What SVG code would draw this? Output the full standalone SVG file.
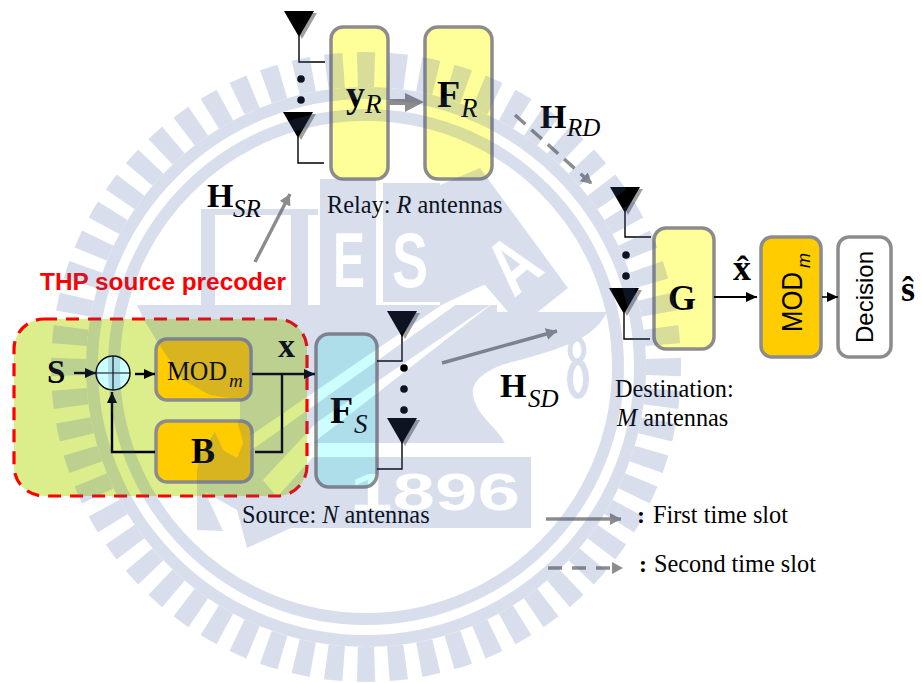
<svg xmlns="http://www.w3.org/2000/svg" width="922" height="683" viewBox="0 0 922 683">
<style>
text{font-family:"Liberation Serif","Times New Roman",serif;fill:#000}
.b{font-weight:bold}
.i{font-style:italic}
.lab{font-size:24.3px}
.sans{font-family:"Liberation Sans",Arial,sans-serif}
.box{stroke:#8c8c8c;stroke-width:3.5}
.y{fill:#ffff99}.o{fill:#ffcc00}
.w{fill:none;stroke:#000;stroke-width:1.4}
.k{fill:none;stroke:#000;stroke-width:2.4}
.g{fill:none;stroke:#8c8c8c;stroke-width:3.4}
.d{stroke-dasharray:14 8}
.seal{fill:#415fa0}
.ring{fill:none;stroke:#415fa0}
.cut{fill:#000;font-family:"Liberation Sans",Arial,sans-serif;font-weight:bold}
</style>
<defs>
<marker id="ak" markerUnits="userSpaceOnUse" markerWidth="12" markerHeight="12" refX="11" refY="6" orient="auto"><path d="M0,1 L11,6 L0,11Z" fill="#000"/></marker>
<marker id="ag" markerUnits="userSpaceOnUse" markerWidth="12" markerHeight="14" refX="11" refY="7" orient="auto"><path d="M0,1 L11,7 L0,13Z" fill="#8c8c8c"/></marker>
<g id="ant"><path d="M3,2 H33 L18,28Z" fill="#a0a0a0"/><path d="M0,0 H30 L15,26Z" fill="#000"/></g>
<mask id="cut" maskUnits="userSpaceOnUse" x="0" y="0" width="922" height="683">
<rect width="922" height="683" fill="#fff"/>
<g fill="#000">
<rect x="215" y="215" width="75" height="7"/><rect x="215" y="229" width="75" height="8"/><rect x="215" y="243" width="75" height="7"/><rect x="215" y="257" width="75" height="8"/><rect x="215" y="272" width="75" height="7"/><rect x="215" y="286" width="75" height="7"/><rect x="215" y="300" width="75" height="5"/>
<path d="M440,306 L485,284 L250,451 L250,436Z"/>
<path d="M497,300 L316,423 L263,480 L277,497 L313,457 L313,443Z"/>
<path d="M237,420 L215,432 L223,450 L237,458 L243,443Z"/>
</g>
<text class="cut" x="349" y="287" font-size="78" text-anchor="middle" textLength="32" lengthAdjust="spacingAndGlyphs">E</text>
<text class="cut" x="410" y="287" font-size="78" text-anchor="middle" textLength="36" lengthAdjust="spacingAndGlyphs">S</text>
<text class="cut" transform="translate(530,285) rotate(-40)" font-size="78" text-anchor="middle" textLength="42" lengthAdjust="spacingAndGlyphs">A</text>
<text class="cut" x="350" y="510" font-size="51" textLength="170" lengthAdjust="spacingAndGlyphs">1896</text>
</mask>
</defs>
<rect width="922" height="683" fill="#fff"/>

<g id="precoder">
<rect x="14" y="319" width="293" height="177" rx="30" fill="#dcee8c" stroke="#ff0000" stroke-width="3.2" stroke-dasharray="13 9"/>
<text class="sans b" x="40" y="290" font-size="24" textLength="246" lengthAdjust="spacingAndGlyphs" style="fill:#ff0000">THP source precoder</text>
</g>
<g id="input-s"><text class="b" x="47" y="383" font-size="33">S</text></g>
<g id="sum">
<circle cx="113" cy="373" r="17" fill="#ccffff" stroke="#000" stroke-width="1.4"/>
<path d="M96,373 H130 M113,356 V390" stroke="#000" stroke-width="1.2"/>
</g>
<g id="mod-source">
<rect class="box o" x="156" y="339" width="95" height="61" rx="11"/>
<text x="167" y="380" font-size="27" textLength="60" lengthAdjust="spacingAndGlyphs">MOD</text>
<text class="i" x="229" y="387" font-size="19">m</text>
</g>
<g id="b">
<rect class="box o" x="156" y="421" width="96" height="61" rx="11"/>
<text class="b" x="191" y="463" font-size="36">B</text>
</g>
<g id="label-x"><text class="b" x="278" y="357" font-size="34">x</text></g>
<g id="fs">
<rect class="box" fill="#ccffff" x="316" y="334" width="61" height="153" rx="13"/>
<text class="b" x="330" y="423" font-size="38">F</text>
<text class="i" x="354" y="433" font-size="27">S</text>
</g>
<g id="source-antennas">
<use href="#ant" x="387" y="311"/><use href="#ant" x="387" y="418"/>
<circle cx="404" cy="368" r="3.8"/><circle cx="404" cy="389" r="3.8"/><circle cx="404" cy="410" r="3.8"/>
<text class="lab" x="242" y="523">Source: <tspan class="i">N</tspan> antennas</text>
</g>
<g id="relay-antennas">
<use href="#ant" x="284" y="11"/><use href="#ant" x="283" y="112"/>
<circle cx="301" cy="79" r="3.8"/><circle cx="301" cy="100" r="3.8"/>
<text class="lab" x="327" y="213">Relay: <tspan class="i">R</tspan> antennas</text>
</g>
<g id="yr">
<rect class="box y" x="331" y="27" width="57" height="152" rx="12"/>
<text class="b" x="346" y="107" font-size="38">y</text>
<text class="i" x="365" y="113" font-size="27">R</text>
</g>
<g id="fr">
<rect class="box y" x="425" y="27" width="67" height="152" rx="13"/>
<text class="b" x="437" y="107" font-size="38">F</text>
<text class="i" x="461" y="117" font-size="27">R</text>
</g>
<g id="label-hrd"><text class="b" x="540" y="128" font-size="34">H</text><text class="i" x="567" y="136" font-size="25">RD</text></g>
<g id="label-hsr"><text class="b" x="207" y="207" font-size="34">H</text><text class="i" x="233" y="217" font-size="25">SR</text></g>
<g id="label-hsd"><text class="b" x="500" y="397" font-size="34">H</text><text class="i" x="528" y="407" font-size="25">SD</text></g>
<g id="dest-antennas">
<use href="#ant" x="610" y="187"/><use href="#ant" x="609" y="288"/>
<circle cx="626" cy="255" r="3.8"/><circle cx="626" cy="276" r="3.8"/>
<text class="lab" x="615" y="397">Destination:</text>
<text class="lab" x="617" y="426"><tspan class="i">M</tspan> antennas</text>
</g>
<g id="g">
<rect class="box y" x="654" y="228" width="60" height="121" rx="12"/>
<text class="b" x="668" y="310" font-size="36">G</text>
</g>
<g id="label-xhat"><text class="b" x="733" y="280" font-size="36">x̂</text></g>
<g id="mod-dest">
<rect class="box o" x="761" y="237" width="60" height="120" rx="11"/>
<text class="sans" transform="translate(802,332) rotate(-90)" font-size="30" textLength="60" lengthAdjust="spacingAndGlyphs">MOD</text>
<text class="sans i" transform="translate(810,268) rotate(-90)" font-size="18">m</text>
</g>
<g id="decision">
<rect class="box" fill="#fff" x="838" y="237" width="53" height="120" rx="11"/>
<text class="sans" transform="translate(873,343) rotate(-90)" font-size="24">Decision</text>
</g>
<g id="label-shat"><text class="b" x="901" y="301" font-size="36">ŝ</text></g>
<g id="legend">
<text class="b" x="637" y="523" font-size="24">:</text>
<text class="lab" x="653" y="523">First time slot</text>
<text class="b" x="639" y="572" font-size="24">:</text>
<text class="lab" x="654" y="572">Second time slot</text>
</g>

<g id="connectors">
<path class="k" d="M74,373 H96" marker-end="url(#ak)"/>
<path class="k" d="M135,374 H155" marker-end="url(#ak)"/>
<path class="k" d="M252,374 H315" marker-end="url(#ak)"/>
<path class="k" d="M282,374 V452 H255"/>
<path class="k" d="M155,452 H112 V392" marker-end="url(#ak)"/>
<path class="w" d="M377,361 H402 V335"/>
<path class="w" d="M377,469 H402 V442"/>
<path class="w" d="M299,36 V62 H325"/>
<path class="w" d="M298,137 V163 H324"/>
<path class="w" d="M625,212 V237 H651"/>
<path class="w" d="M624,313 V339 H650"/>
<path class="k" d="M714,297 H757" marker-end="url(#ak)" style="stroke-width:2"/>
<path class="k" d="M822,297 H838" marker-end="url(#ak)" style="stroke-width:1.6"/>
<path d="M388,102 H406" stroke="#8c8c8c" stroke-width="6" fill="none"/>
<path d="M405,93 L424,102 L405,112Z" fill="#8c8c8c"/>
<path class="g" d="M255,262 L290,194" marker-end="url(#ag)"/>
<path class="g" d="M442,363 L557,331" marker-end="url(#ag)"/>
<path class="g d" d="M515,115 L592,184" marker-end="url(#ag)"/>
<path class="g" d="M546,519 H621" marker-end="url(#ag)"/>
<path class="g" d="M548,568 H612" style="stroke-dasharray:14 10"/>
<path d="M612,562 L623,568 L612,574Z" fill="#8c8c8c"/>
</g>

<g id="watermark" opacity="0.2" mask="url(#cut)">
<circle class="ring" cx="366" cy="367" r="252" stroke-width="12"/>
<circle class="ring" cx="366" cy="367" r="274" stroke-width="12"/>
<circle class="ring" cx="366" cy="367" r="297.5" stroke-width="35" pathLength="60" stroke-dasharray="0.56 0.44" stroke-dashoffset="0.28"/>
<path class="seal" d="M137,305 H497 V312 H607 C595,335 575,345 520,360 C490,366 470,380 473,395 C476,415 495,425 505,443 H313 V457 H531 V528 H291 L247,548 L237,510 L205,492 L223,531 L197,530 V470 L200,455 L215,432 L240,420 V400 L210,395 L183,380 L158,343 L143,318Z"/>
<path class="seal" d="M201,209 H318 V215 H308 V305 H291 V215 H215 V305 H201Z"/>
<rect class="seal" x="320" y="179" width="56" height="129"/>
<rect class="seal" x="383" y="183" width="57" height="119"/>
<path class="seal" d="M440,185 L480,168 L568,288 L520,326 L485,285 L440,306Z"/>
<ellipse cx="577" cy="350" rx="7" ry="11" fill="none" stroke="#415fa0" stroke-width="5"/>
<ellipse cx="578" cy="379" rx="8" ry="17" fill="none" stroke="#415fa0" stroke-width="6"/>
</g>
</svg>
